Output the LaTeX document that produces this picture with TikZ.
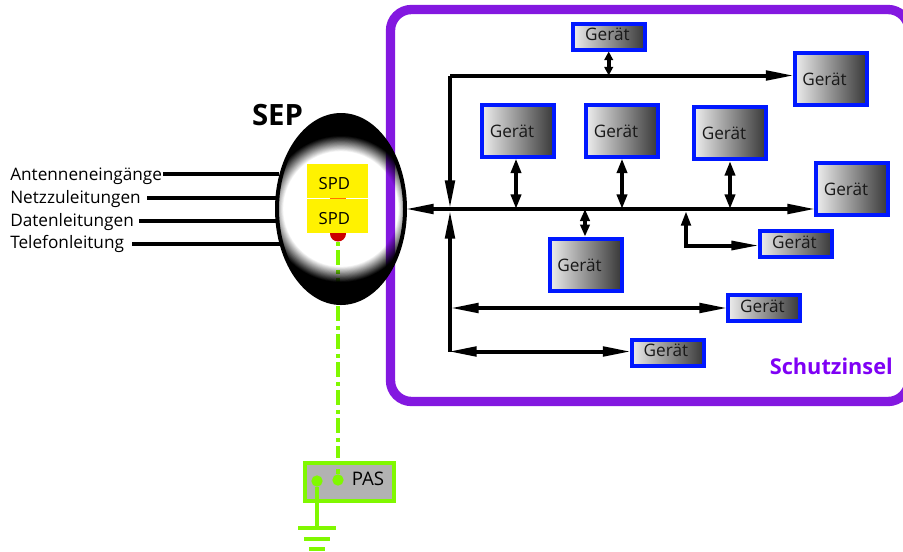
\documentclass[tikz,border=0pt]{standalone}
\usepackage{fontspec}
\setmainfont{Open Sans}
\usetikzlibrary{arrows.meta,shapes.geometric}
\definecolor{purpleframe}{HTML}{8318E0}
\definecolor{purpletext}{HTML}{7F00F5}
\definecolor{boxblue}{HTML}{0018FF}
\definecolor{earthgreen}{HTML}{80F800}
\tikzset{
  devbox/.style={rectangle,draw=boxblue,line width=3pt,inner sep=0pt,outer sep=1.5pt,left color=black!7,right color=black!78},
  bigbox/.style={devbox,minimum width=54pt,minimum height=39pt,label={[gtext,xshift=-4.5pt,yshift=-0.4pt]center:Gerät}},
  smallbox/.style={devbox,minimum width=54pt,minimum height=19.5pt,label={[gtext,xshift=-1.2pt,yshift=1.5pt]center:Gerät}},
  gtext/.style={font=\fontsize{12.9}{15}\selectfont,text=black!90,inner sep=0pt},
  wiretext/.style={font=\fontsize{12.9}{15}\selectfont,inner sep=0pt,anchor=base west,text=black},
  bus/.style={line width=3pt,draw=black},
  wire/.style={line width=3pt,draw=black},
  longtip/.style={{Triangle[length=21.5pt,width=7pt]}-{Triangle[length=21.5pt,width=7pt]},shorten >=-1.5pt,shorten <=-1.5pt},
  endtip/.style={-{Triangle[length=21.5pt,width=7pt]},shorten >=-1.5pt},
  midtip/.style={{Triangle[length=11pt,width=7.5pt]}-{Triangle[length=11pt,width=7.5pt]},line width=3pt},
  shorttip/.style={{Triangle[length=6.5pt,width=6.5pt]}-{Triangle[length=6.5pt,width=6.5pt]},line width=3pt},
  spdbox/.style={rectangle,fill=yellow,minimum width=46pt,minimum height=25.5pt,inner sep=0pt,label={[font=\fontsize{12.5}{15}\selectfont,inner sep=0pt,xshift=-2.5pt,yshift=-2pt]center:SPD}},
  earth/.style={draw=earthgreen,line width=3pt},
}
\begin{document}
\begin{tikzpicture}[x=0.75pt,y=-0.75pt]
\useasboundingbox (0,0) rectangle (903,551);
\fill[white] (0,0) rectangle (903,551);
\begin{scope}
\clip (0,0) rectangle (903,551);
\draw[purpleframe,line width=7pt,rounded corners=15.75pt] (390.5,9.5) rectangle (909,401.5);
\end{scope}
% wires
\node[wiretext] (ant) at (10,180.7) {Antenneneingänge};
\node[wiretext] (net) at (10,203) {Netzzuleitungen};
\node[wiretext] (dat) at (10,226) {Datenleitungen};
\node[wiretext] (tel) at (10,248.7) {Telefonleitung};
\coordinate (w1) at (279,173.5);
\coordinate (w2) at (279,198);
\coordinate (w3) at (279,221);
\coordinate (w4) at (281,244);
\draw[wire,shorten <=0.75pt] (ant.east |- w1) -- (w1);
\draw[wire,shorten <=4.5pt] (net.east |- w2) -- (w2);
\draw[wire,shorten <=3.75pt] (dat.east |- w3) -- (w3);
\draw[wire,shorten <=6pt] (tel.east |- w4) -- (w4);
% earth line runs under the dark rim of the SEP
\node[circle,fill=red!80!black,minimum size=12pt,inner sep=0pt] (spddot) at (338,233.5) {};
\coordinate (lineend) at (338,458);
\draw[earth,dash pattern=on 3pt off 3.5pt on 11pt off 3.5pt] (spddot.south) -- (lineend);
% SEP: white centre fading into black, the frame showing through
\begin{scope}
\clip (341,209) ellipse [x radius=65,y radius=95];
\foreach \k in {1,...,20} {
  \pgfmathsetmacro\rr{57+0.8*\k}
  \pgfmathsetmacro\aa{1/(21-\k)}
  \fill[black,opacity=\aa,even odd rule] (245,113) rectangle (437,305) (341,209) circle [radius=\rr];
}
\end{scope}
\node[ellipse,draw=black,line width=3pt,minimum width=96pt,minimum height=141pt,inner sep=0pt,outer sep=1.5pt] (sep) at (341,209) {};
\node[font=\fontsize{22}{26}\bfseries\selectfont,inner sep=0pt] (seplabel) at (277.5,115) {SEP};
% PAS
\node[rectangle,draw=earthgreen,line width=3pt,fill=black!30,minimum width=66.5pt,minimum height=28.5pt,inner sep=0pt,outer sep=1.5pt] (pas) at (349.25,482) {};
\node[font=\fontsize{14}{16}\selectfont,inner sep=0pt] (pastext) at (368,479) {PAS};
\node[circle,fill=earthgreen,minimum size=8.5pt,inner sep=0pt] (pasa) at (338,480) {};
\node[circle,fill=earthgreen,minimum size=8.5pt,inner sep=0pt] (pasb) at (317,481) {};
\coordinate (stubtop) at (338,469);
\draw[earth] (stubtop) -- (pasa);
\coordinate (g0) at (317,528);
\coordinate (g1a) at (298,528); \coordinate (g1b) at (336,528);
\coordinate (g2a) at (304,538.7); \coordinate (g2b) at (330,538.7);
\coordinate (g3a) at (309,548.7); \coordinate (g3b) at (325,548.7);
\draw[earth] (pasb) -- (g0);
\draw[earth] (g1a) -- (g1b);
\draw[earth] (g2a) -- (g2b);
\draw[earth] (g3a) -- (g3b);
% SPD
\node[spdbox] (spd1) at (337.7,181.2) {};
\node[spdbox] (spd2) at (337.7,216.3) {};
\coordinate (m1) at (330,198.8); \coordinate (m2) at (346,198.8);
\draw[orange!90!red,line width=0.9pt] (m1) -- (m2);
% boxes
\node[smallbox] (g1) at (609,36.5) {};
\node[bigbox] (g2) at (830.5,79) {};
\node[bigbox] (g3) at (518,130.5) {};
\node[bigbox] (g4) at (622,130.5) {};
\node[bigbox] (g5) at (730,133) {};
\node[bigbox] (g6) at (852,189) {};
\node[bigbox] (g10) at (585.5,264.5) {};
\node[smallbox] (g7) at (796,244) {};
\node[smallbox] (g8) at (764,308) {};
\node[smallbox] (g9) at (667.5,352.5) {};
% bus
\coordinate (hub) at (450,209);
\coordinate (top) at (450,75.5);
\coordinate (low) at (450,351.5);
\coordinate (hubu) at (450,207);
\coordinate (hubd) at (450,212);
\draw[bus,endtip] (hub) -- (sep.east);
\draw[bus,endtip] (hub) -- (g6.west |- hub);
\draw[bus,endtip] (top) -- (g2.west |- top);
\draw[bus,endtip] (top) -- (hubu);
\draw[bus,endtip] (low) -- (hubd);
\coordinate (j8) at (452,308);
\draw[bus,longtip] (j8) -- (g8.west |- j8);
\draw[bus,longtip] (low) -- (g9.west |- low);
\coordinate (j1) at (608.7,75.5);
\coordinate (j3) at (516,209);
\coordinate (j4) at (622,209);
\coordinate (j5) at (730,209);
\coordinate (j10) at (585,209);
\draw[shorttip] (j1 |- g1.south) -- (j1);
\draw[midtip] (j3 |- g3.south) -- (j3);
\draw[midtip] (j4 |- g4.south) -- (j4);
\draw[midtip] (j5 |- g5.south) -- (j5);
\draw[shorttip,{Triangle[length=9pt,width=7pt]}-{Triangle[length=9pt,width=7pt]}] (j10) -- (j10 |- g10.north);
\coordinate (j7) at (686,211);
\coordinate (c7) at (686,245.5);
\draw[bus,{Triangle[length=11pt,width=7pt]}-{Triangle[length=21.5pt,width=6.5pt]},shorten >=-1.5pt] (j7) -- (c7) -- (g7.west |- c7);
\node[font=\fontsize{16.3}{18}\bfseries\selectfont,text=purpletext,inner sep=0pt,anchor=east] (insel) at (893,366) {Schutzinsel};
\end{tikzpicture}
\end{document}
